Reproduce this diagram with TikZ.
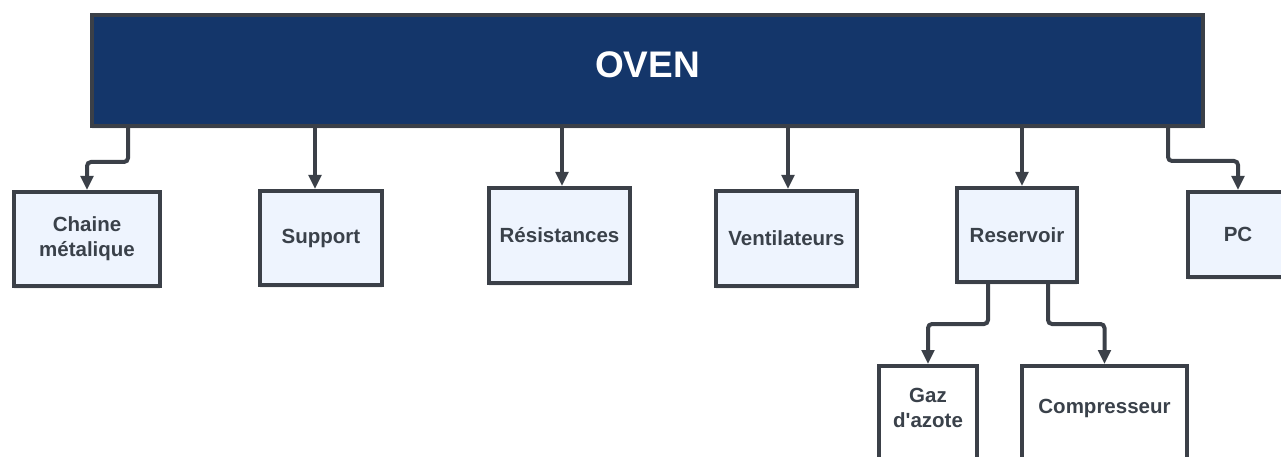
\documentclass[tikz,border=0pt]{standalone}
\usepackage{fontspec}
\setmainfont{Liberation Sans}
\usetikzlibrary{arrows.meta,positioning,shadows}

\definecolor{ovenblue}{HTML}{14366A}
\definecolor{edgegray}{HTML}{3B4048}
\definecolor{textgray}{HTML}{3A414A}
\definecolor{boxfill}{HTML}{EEF4FE}

\begin{document}
\begin{tikzpicture}[x=1pt, y=-1pt,
    box/.style={rectangle, draw=edgegray, line width=4pt, inner sep=0pt, align=center,
        text=textgray, font=\bfseries\fontsize{20.5pt}{25pt}\selectfont,
        drop shadow={shadow xshift=0pt, shadow yshift=-3pt, opacity=0.12}},
    topbox/.style={box, fill=ovenblue, text=white, font=\bfseries\fontsize{37pt}{40pt}\selectfont},
    partbox/.style={box, fill=boxfill},
    leafbox/.style={box, fill=white, anchor=north},
    leaftext/.style={align=center, text=textgray, font=\bfseries\fontsize{20.5pt}{25pt}\selectfont},
    % Connector style
    link/.style={edgegray, line width=4pt, rounded corners=4pt, -{Triangle[length=14pt, width=12.5pt]}},
    ]

    \useasboundingbox (0,0) rectangle (1281,457);
    \clip (0,0) rectangle (1281,457);

    % Main block
    \node[topbox, minimum width=1111pt, minimum height=111pt, text depth=12pt] (oven) at (647.5,70.5) {OVEN};

    % Sub-blocks
    \node[partbox, minimum width=146pt, minimum height=94pt] (chaine) at (87,239) {Chaine\\métalique};
    \node[partbox, minimum width=122pt, minimum height=94pt] (support) at (321,238) {Support};
    \node[partbox, minimum width=141pt, minimum height=95pt] (resist) at (559.5,235.5) {Résistances};
    \node[partbox, minimum width=141pt, minimum height=95pt] (ventil) at (786.5,238.5) {Ventilateurs};
    \node[partbox, minimum width=120pt, minimum height=94pt] (reserv) at (1017,235) {Reservoir};
    \node[partbox, minimum width=100pt, minimum height=85pt] (pc) at (1238,234.5) {PC};

    % Reservoir parts (run off the bottom edge)
    \node[leafbox, minimum width=98pt, minimum height=120pt] (gaz) at (928,364) {};
    \node[leaftext] (gazlbl) at ([yshift=-44pt]gaz.north) {Gaz\\d\textquotesingle azote};
    \node[leafbox, minimum width=165pt, minimum height=120pt] (compr) at (1104.5,364) {};
    \node[leaftext] (comprlbl) at ([yshift=-44pt]compr.north) {Compresseur};

    % Connections from the main block
    \draw[link] ([xshift=38pt]oven.south west) -- ++(0,34) -| (chaine.north);
    \draw[link] ([xshift=-6pt]support.north |- oven.south) -- ([xshift=-6pt]support.north);
    \draw[link] ([xshift=2.5pt]resist.north |- oven.south) -- ([xshift=2.5pt]resist.north);
    \draw[link] ([xshift=1.5pt]ventil.north |- oven.south) -- ([xshift=1.5pt]ventil.north);
    \draw[link] ([xshift=5pt]reserv.north |- oven.south) -- ([xshift=5pt]reserv.north);
    \draw[link] ([xshift=-37pt]oven.south east) -- ++(0,33) -| (pc.north);

    % Connections from the reservoir
    \draw[link] ([xshift=-29pt]reserv.south) -- ++(0,40) -| (gaz.north);
    \draw[link] ([xshift=31pt]reserv.south) -- ++(0,40) -| (compr.north);

\end{tikzpicture}
\end{document}
